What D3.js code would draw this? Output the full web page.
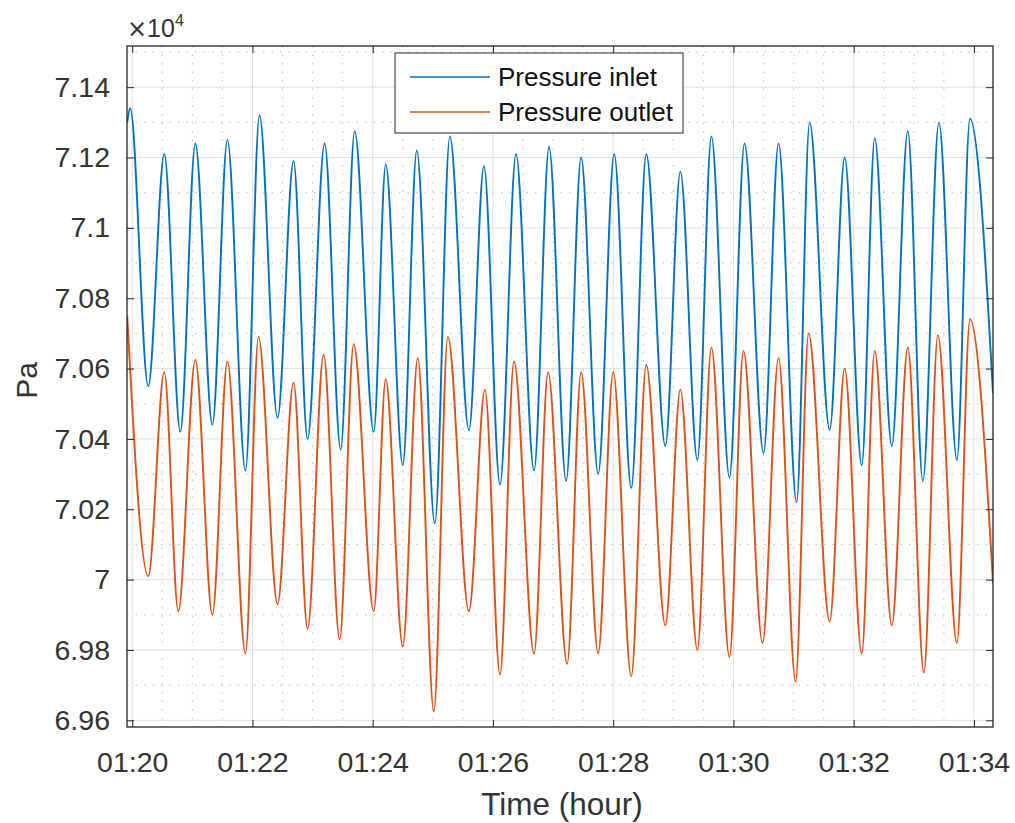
<!DOCTYPE html>
<html>
<head>
<meta charset="utf-8">
<script src="https://cdn.jsdelivr.net/npm/d3@7"></script>
<style>
  body { margin: 0; background: #fff; }
  svg { font-family: "Liberation Sans", Arial, sans-serif; }
  .tick text { fill: #333; }
</style>
</head>
<body>
<svg id="chart" width="1015" height="823"></svg>
<script>
const SVG = d3.select("#chart");
const WIDTH = 1015;
const HEIGHT = 823;
const MARGIN = { top: 46, right: 22, bottom: 96, left: 127 };

// seconds after 01:20:00, values in Pa (peaks and troughs)
const INLET_SEC = [-5, -2, 16, 32, 48, 63, 80, 95, 113, 127, 145, 161, 175, 192, 208,
  222, 241, 253, 270, 284, 302, 317, 336, 351, 367, 383, 401, 416, 433, 448, 465,
  481, 498, 513, 532, 547, 564, 578, 596, 611, 630, 645, 663, 676, 696, 711, 728,
  741, 758, 774, 789, 805, 823, 836, 859];
const INLET_PA = [71300, 71340, 70550, 71210, 70420, 71240, 70440, 71250, 70310, 71320,
  70460, 71190, 70400, 71240, 70370, 71275, 70420, 71180, 70325, 71220, 70160, 71260,
  70425, 71175, 70270, 71210, 70310, 71230, 70280, 71200, 70300, 71210, 70260, 71210,
  70380, 71160, 70340, 71260, 70290, 71240, 70360, 71240, 70220, 71300, 70425, 71200,
  70325, 71255, 70380, 71275, 70280, 71300, 70340, 71310, 70530];

const OUTLET_SEC = [-5, 16, 32, 46, 63, 80, 95, 113, 126, 145, 161, 175, 191, 207,
  221, 241, 253, 270, 285, 301, 315, 336, 352, 367, 381, 401, 415, 434, 448, 465,
  480, 498, 513, 532, 547, 564, 578, 596, 610, 629, 645, 662, 675, 696, 711, 728,
  741, 758, 774, 790, 804, 823, 836, 859];
const OUTLET_PA = [70750, 70010, 70590, 69910, 70625, 69900, 70620, 69790, 70690, 69930,
  70560, 69860, 70640, 69830, 70670, 69910, 70570, 69810, 70630, 69625, 70690, 69910,
  70540, 69730, 70620, 69790, 70590, 69760, 70590, 69790, 70590, 69725, 70610, 69870,
  70540, 69800, 70660, 69780, 70650, 69820, 70630, 69710, 70700, 69880, 70600, 69790,
  70650, 69870, 70660, 69735, 70695, 69820, 70740, 69990];

const SERIES_NAMES = ["Pressure inlet", "Pressure outlet"];
const SERIES_COLORS = ["#0072BD", "#D95319"];

const X_TICKS = ["01:20", "01:22", "01:24", "01:26", "01:28", "01:30", "01:32", "01:34"];
const X_DOMAIN = ["01:19:54.8", "01:34:19"];
const Y_TICKS = [69600, 69800, 70000, 70200, 70400, 70600, 70800, 71000, 71200, 71400];
const Y_DOMAIN = [69581, 71517];

const parseHM = d3.timeParse("%H:%M");
const parseHMS = s => {
  const [h, m, sec] = s.split(":");
  return new Date(1900, 0, 1, +h, +m, 0, Math.round(+sec * 1000));
};
const START = parseHM("01:20");
const toDate = s => new Date(START.getTime() + s * 1000);

const X = d3.scaleTime()
  .domain(X_DOMAIN.map(parseHMS))
  .range([MARGIN.left, WIDTH - MARGIN.right]);
const Y = d3.scaleLinear()
  .domain(Y_DOMAIN)
  .range([HEIGHT - MARGIN.bottom, MARGIN.top]);

const PLOT_W = WIDTH - MARGIN.right - MARGIN.left;
const PLOT_H = HEIGHT - MARGIN.bottom - MARGIN.top;

// minor grid (dotted)
const minorX = d3.range(30, 860, 30).filter(s => s % 120 !== 0).map(toDate);
const minorY = d3.range(69700, 71517, 200);
const GRID = SVG.append("g");
GRID.selectAll("line.mx").data(minorX).enter().append("line")
  .attr("x1", d => X(d)).attr("x2", d => X(d))
  .attr("y1", MARGIN.top).attr("y2", HEIGHT - MARGIN.bottom)
  .attr("stroke", "#bdbdbd").attr("stroke-dasharray", "1.5 7");
GRID.selectAll("line.my").data(minorY).enter().append("line")
  .attr("x1", MARGIN.left).attr("x2", WIDTH - MARGIN.right)
  .attr("y1", d => Y(d)).attr("y2", d => Y(d))
  .attr("stroke", "#bdbdbd").attr("stroke-dasharray", "1.5 7");
// major grid
GRID.selectAll("line.gx").data(X_TICKS.map(parseHM)).enter().append("line")
  .attr("x1", d => X(d)).attr("x2", d => X(d))
  .attr("y1", MARGIN.top).attr("y2", HEIGHT - MARGIN.bottom)
  .attr("stroke", "#e0e0e0");
GRID.selectAll("line.gy").data(Y_TICKS).enter().append("line")
  .attr("x1", MARGIN.left).attr("x2", WIDTH - MARGIN.right)
  .attr("y1", d => Y(d)).attr("y2", d => Y(d))
  .attr("stroke", "#e0e0e0");

// lines
const LINE = d3.line()
  .x(d => X(d.t))
  .y(d => Y(d.v))
  .curve(d3.curveMonotoneX);

const SERIES = [
  INLET_SEC.map((s, i) => ({ t: toDate(s), v: INLET_PA[i] })),
  OUTLET_SEC.map((s, i) => ({ t: toDate(s), v: OUTLET_PA[i] }))
];

SVG.append("clipPath").attr("id", "clip")
  .append("rect")
  .attr("x", MARGIN.left).attr("y", MARGIN.top)
  .attr("width", PLOT_W).attr("height", PLOT_H);

SVG.append("g").attr("clip-path", "url(#clip)")
  .selectAll("path")
  .data(SERIES)
  .enter()
  .append("path")
  .attr("d", LINE)
  .attr("fill", "none")
  .attr("stroke", (d, i) => SERIES_COLORS[i])
  .attr("stroke-width", 1.9);

// axes
const fmtY = v => String(+(v / 1e4).toFixed(2));
const xAxis = d3.axisBottom(X)
  .tickValues(X_TICKS.map(parseHM))
  .tickFormat(d3.timeFormat("%H:%M"))
  .tickSize(-7).tickPadding(25);
const yAxis = d3.axisLeft(Y)
  .tickValues(Y_TICKS)
  .tickFormat(fmtY)
  .tickSize(-7).tickPadding(17);

function styleAxis(g) {
  g.select(".domain").remove();
  g.selectAll(".tick line").attr("stroke", "#262626");
  g.selectAll(".tick text").attr("font-size", 28.5);
}

SVG.append("g")
  .attr("transform", `translate(0,${HEIGHT - MARGIN.bottom})`)
  .call(xAxis).call(styleAxis);
SVG.append("g")
  .attr("transform", `translate(0,${MARGIN.top})`)
  .call(d3.axisTop(X).tickValues(X_TICKS.map(parseHM)).tickSize(-7).tickFormat(""))
  .call(styleAxis);
SVG.append("g")
  .attr("transform", `translate(${MARGIN.left},0)`)
  .call(yAxis).call(styleAxis);
SVG.append("g")
  .attr("transform", `translate(${WIDTH - MARGIN.right},0)`)
  .call(d3.axisRight(Y).tickValues(Y_TICKS).tickSize(-7).tickFormat(""))
  .call(styleAxis);

// box
SVG.append("rect")
  .attr("x", MARGIN.left).attr("y", MARGIN.top)
  .attr("width", PLOT_W).attr("height", PLOT_H)
  .attr("fill", "none").attr("stroke", "#262626").attr("stroke-width", 1.3);

// exponent
const EXP = SVG.append("text")
  .attr("x", MARGIN.left).attr("y", 37)
  .attr("fill", "#333").attr("font-size", 25);
EXP.append("tspan").attr("font-family", "DejaVu Sans").attr("font-size", 24).text("\u00d7");
EXP.append("tspan").text("10");
EXP.append("tspan").attr("font-size", 16).attr("dy", -11).text("4");

// axis labels
SVG.append("text")
  .attr("x", MARGIN.left + PLOT_W / 2 + 2).attr("y", 815)
  .attr("text-anchor", "middle").attr("font-size", 31.5).attr("fill", "#333")
  .text("Time (hour)");
SVG.append("text")
  .attr("transform", `translate(37,${MARGIN.top + PLOT_H / 2 - 6}) rotate(-90)`)
  .attr("text-anchor", "middle").attr("font-size", 30).attr("fill", "#333")
  .text("Pa");

// legend
const LEG = SVG.append("g").attr("transform", "translate(395,53)");
LEG.append("rect")
  .attr("width", 288).attr("height", 80)
  .attr("fill", "#fff").attr("stroke", "#262626").attr("stroke-width", 1);
SERIES_NAMES.forEach((name, i) => {
  const cy = 24 + i * 35;
  LEG.append("line")
    .attr("x1", 15).attr("x2", 95).attr("y1", cy).attr("y2", cy)
    .attr("stroke", SERIES_COLORS[i]).attr("stroke-width", 1.6);
  LEG.append("text")
    .attr("x", 103).attr("y", cy).attr("dy", "0.35em")
    .attr("font-size", 26).attr("fill", "#111")
    .text(name);
});
</script>
</body>
</html>
